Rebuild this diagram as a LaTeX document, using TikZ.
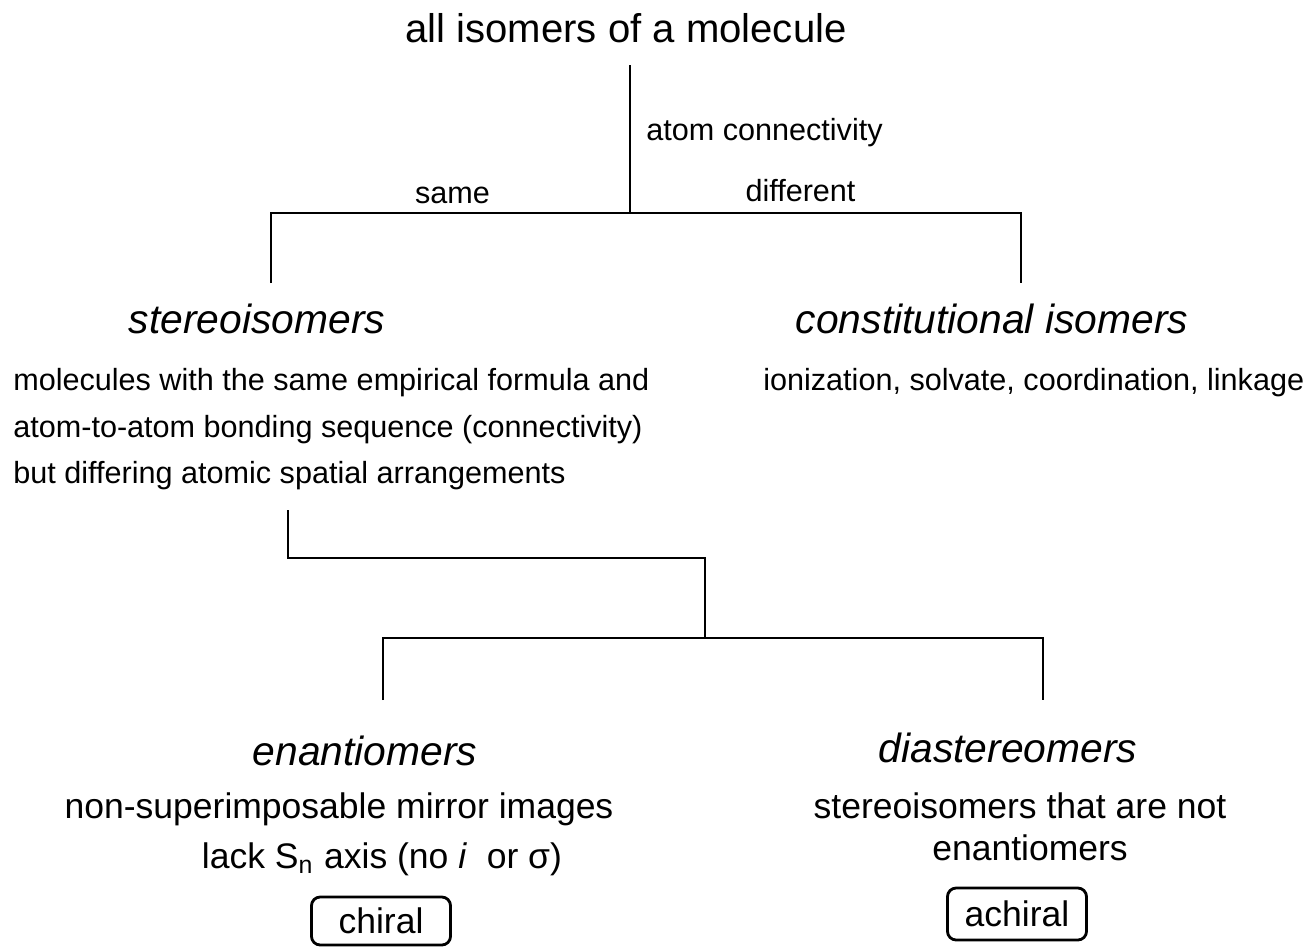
\documentclass[tikz,border=0pt]{standalone}
\usepackage{fontspec}
\setmainfont{Liberation Sans}
\usetikzlibrary{positioning,calc}

\tikzset{
  head/.style={inner sep=0pt,font=\fontsize{11.6}{14}\selectfont\itshape},
  toptxt/.style={inner sep=0pt,font=\fontsize{11.4}{14}\selectfont},
  note/.style={inner sep=0pt,font=\fontsize{8.7}{13}\selectfont},
  bignote/.style={inner sep=0pt,font=\fontsize{10.1}{14}\selectfont},
  tagbox/.style={draw,rounded corners=2.5pt,line width=0.8pt,inner sep=0pt,
    minimum width=1.39cm,font=\fontsize{10.1}{12}\selectfont},
}

\begin{document}
\begin{tikzpicture}[x=0.01cm,y=-0.01cm,line width=0.75pt]
\useasboundingbox (0,0) rectangle (1305,947);

% level 0
\node[toptxt,anchor=base](q_all) at (626,42) {all isomers of a molecule};
\coordinate (q_0) at (630,65);
\coordinate (q_1) at (630,213);
\coordinate (q_sl) at (271,213);
\coordinate (q_sr) at (1021,213);
\coordinate (q_sld) at (271,283);
\coordinate (q_srd) at (1021,283);
\draw (q_0) -- (q_1);
\draw (q_sld) -- (q_sl) -- (q_1) -- (q_sr) -- (q_srd);
\node[note,anchor=base west](q_ac) at ($(q_0)!0.5!(q_1)+(15,1)$) {atom connectivity};
\node[note,anchor=base](q_same) at ($(q_sl)!0.5!(q_1)+(2,-10)$) {same};
\node[note,anchor=base](q_diff) at ($(q_1)!0.5!(q_sr)+(-25,-12)$) {different};

% level 1
\node[head,anchor=base](q_stereo) at (257,333) {stereoisomers};
\node[head,anchor=base](q_const) at (992,333) {constitutional isomers};
\node[note,anchor=base west](q_d1) at (12,390) {molecules with the same empirical formula and};
\node[note,anchor=base west](q_d2) at (12,437) {atom-to-atom bonding sequence (connectivity)};
\node[note,anchor=base west](q_d3) at (12,483) {but differing atomic spatial arrangements};
\node[note,anchor=base west](q_c1) at (762,390) {ionization, solvate, coordination, linkage};

\coordinate (q_2) at (288,510);
\coordinate (q_3) at (288,558);
\coordinate (q_4) at (705,558);
\coordinate (q_5) at (705,638);
\coordinate (q_el) at (383,638);
\coordinate (q_er) at (1043,638);
\coordinate (q_eld) at (383,700);
\coordinate (q_erd) at (1043,700);
\draw (q_2) -- (q_3) -- (q_4) -- (q_5);
\draw (q_eld) -- (q_el) -- (q_er) -- (q_erd);

% level 2
\node[head,anchor=base](q_enan) at (365,765) {enantiomers};
\node[head,anchor=base](q_dia) at (1008,762) {diastereomers};
\node[bignote,anchor=base](q_e1) at (339,818) {non-superimposable mirror images};
\node[bignote,anchor=base](q_e2) at (382,868) {lack S\textsubscript{n} axis (no \textit{i}\ \ or σ)};
\node[bignote,anchor=base](q_a1) at (1020,818) {stereoisomers that are not};
\node[bignote,anchor=base](q_a2) at (1030,860) {enantiomers};
\node[tagbox,minimum height=0.48cm](q_chiral) at (381,921) {chiral};
\node[tagbox,minimum height=0.52cm](q_achiral) at (1017,914) {achiral};
\end{tikzpicture}
\end{document}
